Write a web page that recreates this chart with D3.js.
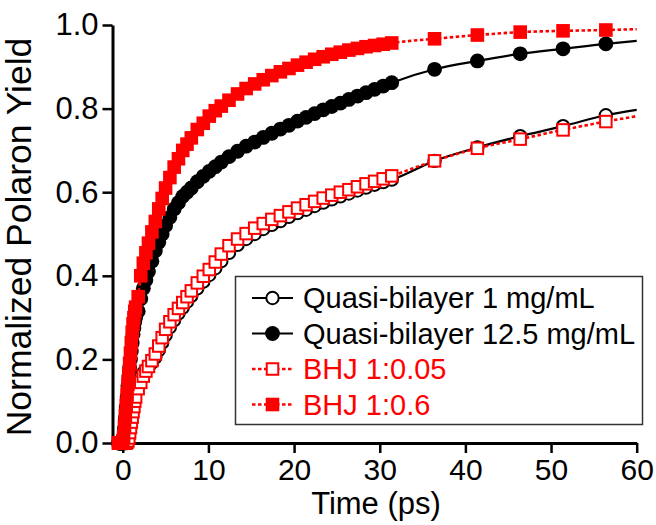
<!DOCTYPE html>
<html>
<head>
<meta charset="utf-8">
<script src="https://cdn.jsdelivr.net/npm/d3@7"></script>
<style>
  html, body { margin: 0; padding: 0; background: #fff; }
  svg { display: block; font-family: "Liberation Sans", Arial, Helvetica, sans-serif; }
</style>
</head>
<body>
<svg id="chart" width="656" height="525"></svg>
<script>
// Delay times (ps) shared by all four transients
const times = [
  -0.5, -0.4, -0.3, -0.2, -0.1, 0, 0.1, 0.2, 0.3, 0.4, 0.5, 0.6, 0.7, 0.8, 0.9, 1.0, 1.1, 1.2, 1.3, 1.4, 1.5,
  1.8, 2.1, 2.4, 2.7, 3.0, 3.4, 3.8, 4.2, 4.6, 5.0, 5.5, 6.0, 6.5, 7.0, 7.5, 8.0, 8.7, 9.4, 10.1, 10.8, 11.5,
  12.4, 13.4, 14.4, 15.4, 16.4, 17.4, 18.4, 19.4, 20.4, 21.4, 22.4, 23.4, 24.4, 25.4, 26.4, 27.4, 28.4, 29.4, 30.4, 31.4,
  36.4, 41.4, 46.4, 51.4, 56.4
];

// Normalized polaron yield, Quasi-bilayer 1 mg/mL
const quasi1 = [
  0, 0, 0, 0, 0, 0, 0, 0, 0, 0, 0, 0.005, 0.015, 0.03, 0.045, 0.06, 0.075, 0.09, 0.105, 0.12, 0.13,
  0.148, 0.16, 0.168, 0.175, 0.182, 0.192, 0.205, 0.222, 0.24, 0.258, 0.277, 0.294, 0.31, 0.324, 0.338, 0.352, 0.37, 0.386, 0.402, 0.418, 0.435,
  0.455, 0.474, 0.488, 0.5, 0.512, 0.522, 0.531, 0.541, 0.55, 0.558, 0.567, 0.575, 0.583, 0.59, 0.597, 0.604, 0.611, 0.618, 0.624, 0.63,
  0.675, 0.707, 0.734, 0.758, 0.784
];

// Normalized polaron yield, Quasi-bilayer 12.5 mg/mL
const quasi125 = [
  0, 0, 0, 0, 0, 0, 0.01, 0.035, 0.06, 0.085, 0.11, 0.135, 0.16, 0.18, 0.2, 0.22, 0.24, 0.26, 0.275, 0.29, 0.3,
  0.315, 0.345, 0.37, 0.39, 0.41, 0.435, 0.46, 0.48, 0.5, 0.52, 0.54, 0.56, 0.575, 0.59, 0.6, 0.61, 0.625, 0.638, 0.65, 0.661, 0.672,
  0.685, 0.698, 0.71, 0.72, 0.731, 0.741, 0.751, 0.76, 0.77, 0.779, 0.788, 0.797, 0.805, 0.813, 0.822, 0.83, 0.838, 0.846, 0.854, 0.862,
  0.894, 0.914, 0.931, 0.943, 0.955
];

// Normalized polaron yield, BHJ 1:0.05
const bhj005 = [
  0, 0, 0, 0, 0, 0, 0, 0, 0, 0, 0.002, 0.005, 0.012, 0.025, 0.037, 0.05, 0.062, 0.075, 0.087, 0.1, 0.11,
  0.13, 0.145, 0.16, 0.172, 0.183, 0.197, 0.213, 0.232, 0.252, 0.272, 0.29, 0.307, 0.322, 0.336, 0.35, 0.364, 0.383, 0.399, 0.415, 0.433, 0.452,
  0.472, 0.488, 0.501, 0.514, 0.525, 0.535, 0.544, 0.553, 0.562, 0.57, 0.578, 0.586, 0.593, 0.6, 0.606, 0.613, 0.62, 0.626, 0.632, 0.639,
  0.675, 0.705, 0.727, 0.749, 0.769
];

// Normalized polaron yield, BHJ 1:0.6
const bhj06 = [
  0, 0, 0, 0, 0, 0.005, 0.015, 0.04, 0.065, 0.09, 0.115, 0.14, 0.165, 0.19, 0.215, 0.24, 0.265, 0.285, 0.3, 0.315, 0.325,
  0.35, 0.4, 0.43, 0.455, 0.478, 0.505, 0.53, 0.56, 0.585, 0.61, 0.635, 0.66, 0.68, 0.7, 0.715, 0.73, 0.75, 0.765, 0.782, 0.795, 0.806,
  0.82, 0.835, 0.848, 0.859, 0.869, 0.879, 0.888, 0.896, 0.904, 0.911, 0.918, 0.924, 0.93, 0.935, 0.94, 0.944, 0.948, 0.951, 0.954, 0.957,
  0.967, 0.976, 0.983, 0.986, 0.988
];

// Fitted curves continue to the end of the time window
const fitEndTime = 60;
const fitEndValues = [0.797, 0.962, 0.782, 0.99];

const seriesNames = ["Quasi-bilayer 1 mg/mL", "Quasi-bilayer 12.5 mg/mL", "BHJ 1:0.05", "BHJ 1:0.6"];
const seriesValues = [quasi1, quasi125, bhj005, bhj06];
const xTicks = [0, 10, 20, 30, 40, 50, 60];
const yTicks = [0.0, 0.2, 0.4, 0.6, 0.8, 1.0];

// Drawing style of each series
const styles = [
  { color: "#000", shape: "circle", open: true,  dash: null },
  { color: "#000", shape: "circle", open: false, dash: null },
  { color: "#f00", shape: "square", open: true,  dash: "3.5,2.5" },
  { color: "#f00", shape: "square", open: false, dash: "3.5,2.5" }
];

const svg = d3.select("#chart");

const x = d3.scaleLinear().domain([-1.2, 60]).range([112.5, 636.7]);
const y = d3.scaleLinear().domain([0, 1]).range([443, 25]);

// Axes
const xAxis = svg.append("g")
  .attr("transform", `translate(0,${y(0)})`)
  .call(d3.axisBottom(x).tickValues(xTicks).tickSize(10).tickSizeOuter(0).tickPadding(6)
    .tickFormat(d3.format("d")));
const yAxis = svg.append("g")
  .attr("transform", `translate(${x(-1.2)},0)`)
  .call(d3.axisLeft(y).tickValues(yTicks).tickSize(10).tickSizeOuter(0).tickPadding(4)
    .tickFormat(d3.format(".1f")));

[xAxis, yAxis].forEach(g => {
  g.select(".domain").attr("stroke", "#000").attr("stroke-width", 3);
  g.selectAll(".tick line").attr("stroke", "#000").attr("stroke-width", 2.5);
  g.selectAll(".tick text").attr("fill", "#000").style("font-family", "'Liberation Sans', Arial, sans-serif");
});
xAxis.selectAll(".tick text").attr("font-size", 30);
yAxis.selectAll(".tick text").attr("font-size", 31);

// Axis titles
svg.append("text")
  .attr("x", 376).attr("y", 514)
  .attr("text-anchor", "middle")
  .attr("font-size", 31)
  .text("Time (ps)");
svg.append("text")
  .attr("transform", "translate(31,237) rotate(-90)")
  .attr("text-anchor", "middle")
  .attr("font-size", 35.5)
  .text("Normalized Polaron Yield");

// Marker drawing helper
function drawMarker(sel, st) {
  if (st.shape === "circle") {
    sel.append("circle")
      .attr("r", st.open ? 6.2 : 7.4)
      .attr("fill", st.open ? "#fff" : st.color)
      .attr("stroke", st.color)
      .attr("stroke-width", st.open ? 2 : 0);
  } else {
    const s = st.open ? 11.5 : 13.6;
    sel.append("rect")
      .attr("x", -s / 2).attr("y", -s / 2)
      .attr("width", s).attr("height", s)
      .attr("fill", st.open ? "#fff" : st.color)
      .attr("stroke", st.color)
      .attr("stroke-width", st.open ? 2 : 0);
  }
}

const line = d3.line()
  .x(d => x(d[0]))
  .y(d => y(d[1]))
  .curve(d3.curveMonotoneX);

const plot = svg.append("g");
seriesValues.forEach((vals, i) => {
  const st = styles[i];
  const pts = times.map((t, j) => [t, vals[j]]);
  const g = plot.append("g");
  g.append("path")
    .datum(pts.concat([[fitEndTime, fitEndValues[i]]]))
    .attr("d", line)
    .attr("fill", "none")
    .attr("stroke", st.color)
    .attr("stroke-width", st.dash ? 2.6 : 2.2)
    .attr("stroke-dasharray", st.dash);
  g.selectAll("g.pt")
    .data(pts)
    .join("g")
    .attr("class", "pt")
    .attr("transform", d => `translate(${x(d[0])},${y(d[1])})`)
    .each(function () { drawMarker(d3.select(this), st); });
});

// Legend
const legend = svg.append("g");
legend.append("rect")
  .attr("x", 235.5).attr("y", 276.5)
  .attr("width", 407).attr("height", 148)
  .attr("fill", "#fff")
  .attr("stroke", "#333").attr("stroke-width", 1.5);

const rowY = [298, 333.5, 369, 404.5];
seriesNames.forEach((name, i) => {
  const st = styles[i];
  const row = legend.append("g").attr("transform", `translate(0,${rowY[i]})`);
  row.append("line")
    .attr("x1", 252).attr("x2", 293)
    .attr("stroke", st.color)
    .attr("stroke-width", st.dash ? 2.6 : 2.2)
    .attr("stroke-dasharray", st.dash);
  drawMarker(row.append("g").attr("transform", "translate(272.5,0)"), st);
  row.append("text")
    .attr("x", 303).attr("y", 0).attr("dy", "0.36em")
    .attr("font-size", 29)
    .attr("fill", st.color === "#f00" ? "#f00" : "#000")
    .text(name);
});
</script>
</body>
</html>
